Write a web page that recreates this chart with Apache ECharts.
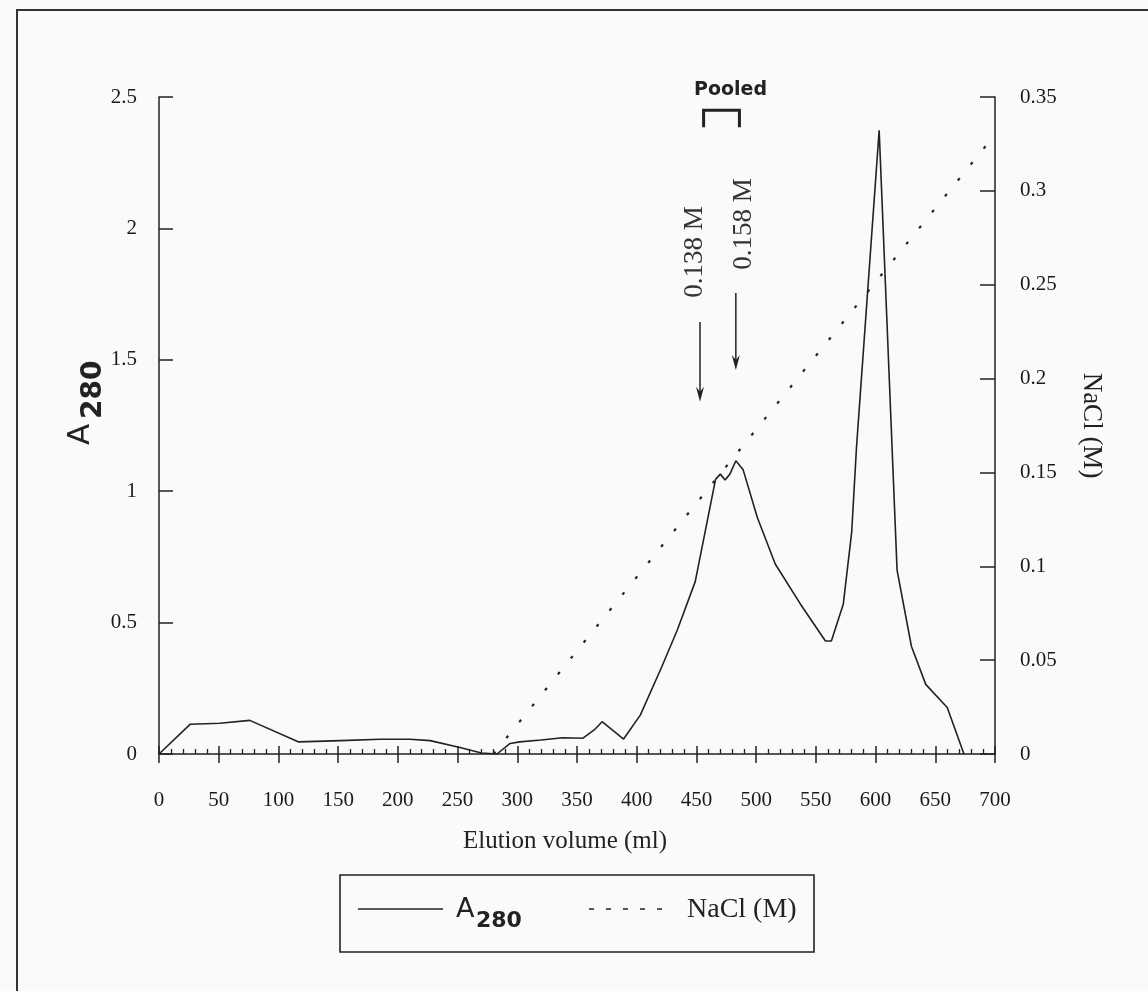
<!DOCTYPE html>
<html><head><meta charset="utf-8">
<script src="https://cdn.jsdelivr.net/npm/echarts@6/dist/echarts.min.js"></script>
<style>html,body{margin:0;padding:0;background:#fafafa}#c{width:1148px;height:991px}</style>
</head><body><div id="c"></div>
<script>
// ---- data ----
const elutionVolume = [0, 26, 51, 76, 117, 152, 185, 210, 227, 252, 270, 283, 294, 302, 320, 338, 355, 365, 371, 389, 403, 421, 434, 449, 466, 470, 474, 478, 483, 489, 501, 516, 537, 558, 563, 573, 580, 584, 603, 618, 630, 642, 660, 674];
const a280 = [0, 0.113, 0.117, 0.128, 0.046, 0.051, 0.056, 0.056, 0.051, 0.025, 0.004, 0.0, 0.04, 0.046, 0.053, 0.062, 0.06, 0.094, 0.123, 0.057, 0.148, 0.332, 0.472, 0.656, 1.045, 1.065, 1.043, 1.065, 1.116, 1.083, 0.90, 0.723, 0.571, 0.43, 0.43, 0.571, 0.844, 1.165, 2.373, 0.70, 0.41, 0.265, 0.177, 0.0];
const naclVolume = [280, 700];
const naclMolar = [0, 0.33];
const xRange = [0, 700], xStep = 50;
const yLeftRange = [0, 2.5], yLeftStep = 0.5;
const yRightRange = [0, 0.35], yRightStep = 0.05;
const pooledRange = [456, 486];
const arrowVolumes = [453, 483];
const arrowLabels = ['0.138 M', '0.158 M'];

const INK = '#222';
const SERIF = '"Liberation Serif", "DejaVu Serif", serif';
const SANS = '"DejaVu Sans", "Liberation Sans", sans-serif';

const chart = echarts.init(document.getElementById('c'), null, {renderer: 'canvas'});
const axisLine = {show: true, onZero: false, lineStyle: {color: INK, width: 1.5}};
const tickStyle = {color: INK, width: 1.5};
const labelStyle = {color: '#1a1a1a', fontFamily: SERIF, fontSize: 21};

chart.setOption({
  backgroundColor: '#fafafa',
  animation: false,
  grid: {left: 159, right: 153, top: 97, bottom: 237, outerBoundsMode: 'none', containLabel: false},
  xAxis: [
    {type: 'value', position: 'bottom', min: xRange[0], max: xRange[1], interval: xStep,
     axisLine: axisLine, splitLine: {show: false},
     axisTick: {show: true, inside: false, length: 9, lineStyle: tickStyle},
     axisLabel: Object.assign({margin: 36}, labelStyle)},
    {type: 'value', position: 'bottom', min: xRange[0], max: xRange[1], interval: xStep,
     axisLine: {show: false, onZero: false}, splitLine: {show: false}, axisLabel: {show: false},
     axisTick: {show: true, inside: true, length: 8, lineStyle: tickStyle},
     minorTick: {show: true, splitNumber: 5, length: 5, lineStyle: {color: INK, width: 1.3}}}
  ],
  yAxis: [
    {type: 'value', position: 'left', min: yLeftRange[0], max: yLeftRange[1], interval: yLeftStep,
     axisLine: axisLine, splitLine: {show: false},
     axisTick: {show: true, inside: true, length: 14, lineStyle: tickStyle},
     axisLabel: Object.assign({margin: 22}, labelStyle)},
    {type: 'value', position: 'right', min: yRightRange[0], max: yRightRange[1], interval: yRightStep,
     axisLine: axisLine, splitLine: {show: false},
     axisTick: {show: true, inside: true, length: 15, lineStyle: tickStyle},
     axisLabel: Object.assign({margin: 25}, labelStyle),
     name: 'NaCl (M)', nameLocation: 'middle', nameRotate: -90, nameGap: 83,
     nameTextStyle: {color: INK, fontFamily: SERIF, fontSize: 27}}
  ],
  series: [
    {name: 'A280', type: 'line', xAxisIndex: 0, yAxisIndex: 0, symbol: 'none', z: 3,
     data: elutionVolume.map((v, i) => [v, a280[i]]),
     lineStyle: {color: INK, width: 1.6}},
    {name: 'NaCl (M)', type: 'line', xAxisIndex: 0, yAxisIndex: 1, symbol: 'none', z: 2,
     data: naclVolume.map((v, i) => [v, naclMolar[i]]),
     lineStyle: {color: INK, width: 2.2, type: [3, 17.5]}}
  ]
});

function px(v, a) { return chart.convertToPixel({xAxisIndex: 0, yAxisIndex: 0}, [v, a]); }

const g = [];
// page frame
g.push({type: 'polyline', shape: {points: [[17, 991], [17, 10], [1148, 10]]}, style: {stroke: '#333', lineWidth: 2, fill: null}});

// x axis title
g.push({type: 'text', x: 565, y: 841, style: {text: 'Elution volume (ml)', font: '25px ' + SERIF, fill: INK, align: 'center', verticalAlign: 'middle'}});

// left axis title A280 (rotated)
g.push({type: 'group', x: 86, y: 398, rotation: Math.PI / 2, children: [
  {type: 'text', x: -47, y: -5, style: {text: 'A', font: '31px ' + SANS, fill: INK, align: 'left', verticalAlign: 'middle'}},
  {type: 'text', x: -21, y: 8, style: {text: '280', font: 'bold 28px ' + SANS, fill: INK, align: 'left', verticalAlign: 'middle'}}
]});

// pooled bracket
const b1 = px(pooledRange[0], 2.385), b2 = px(pooledRange[1], 2.45);
g.push({type: 'polyline', shape: {points: [[b1[0], b1[1]], [b1[0], b2[1]], [b2[0], b2[1]], [b2[0], b1[1]]]},
        style: {stroke: INK, lineWidth: 3, fill: null}});
g.push({type: 'text', x: (b1[0] + b2[0]) / 2 + 9, y: 90, style: {text: 'Pooled', font: 'bold 19px ' + SANS, fill: INK, align: 'center', verticalAlign: 'middle'}});

// arrows with labels
const arrowTops = [1.644, 1.754], arrowBottoms = [1.34, 1.461], labelMid = [1.91, 2.017], labelShift = [-5, 8];
arrowVolumes.forEach((v, i) => {
  const t = px(v, arrowTops[i]), b = px(v, arrowBottoms[i]), m = px(v, labelMid[i]);
  g.push({type: 'line', shape: {x1: t[0], y1: t[1], x2: b[0], y2: b[1] - 6}, style: {stroke: INK, lineWidth: 1.5}});
  g.push({type: 'polygon', shape: {points: [[b[0] - 4, b[1] - 15], [b[0], b[1] - 10], [b[0] + 4, b[1] - 15], [b[0], b[1]]]}, style: {fill: INK}});
  g.push({type: 'text', x: m[0] + labelShift[i], y: m[1], rotation: Math.PI / 2,
          style: {text: arrowLabels[i], font: '27px ' + SERIF, fill: '#333', align: 'center', verticalAlign: 'middle'}});
});

// legend box
g.push({type: 'rect', shape: {x: 340, y: 875, width: 474, height: 77}, style: {stroke: INK, lineWidth: 1.6, fill: null}});
g.push({type: 'line', shape: {x1: 358, y1: 909, x2: 443, y2: 909}, style: {stroke: INK, lineWidth: 1.6}});
g.push({type: 'text', x: 456, y: 910, style: {text: 'A', font: '27px ' + SANS, fill: INK, align: 'left', verticalAlign: 'middle'}});
g.push({type: 'text', x: 476, y: 921, style: {text: '280', font: 'bold 22px ' + SANS, fill: INK, align: 'left', verticalAlign: 'middle'}});
g.push({type: 'line', shape: {x1: 589, y1: 909, x2: 673, y2: 909}, style: {stroke: INK, lineWidth: 1.6, lineDash: [5, 12]}});
g.push({type: 'text', x: 687, y: 910, style: {text: 'NaCl (M)', font: '28px ' + SERIF, fill: INK, align: 'left', verticalAlign: 'middle'}});

chart.setOption({graphic: g});
</script></body></html>
